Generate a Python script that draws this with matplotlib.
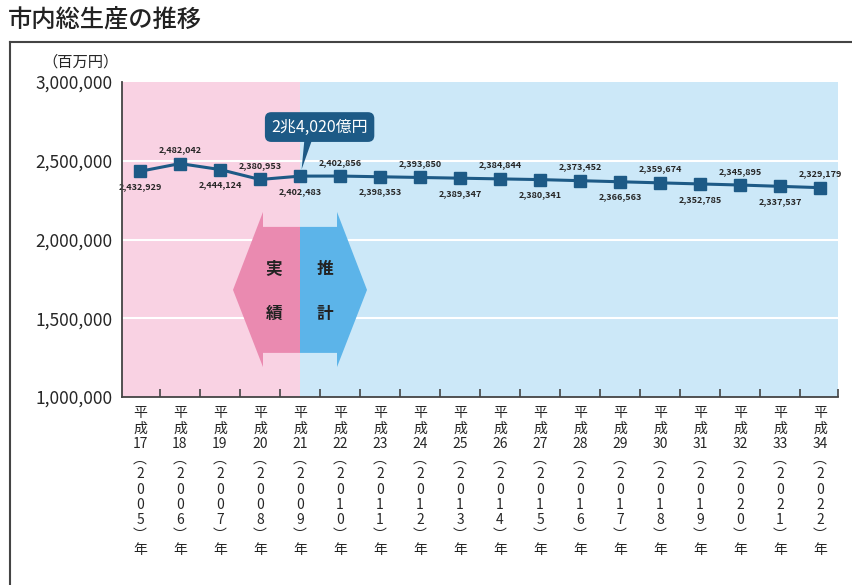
import numpy as np
import matplotlib.pyplot as plt
from matplotlib.patches import Polygon
from matplotlib.lines import Line2D

plt.rcParams['font.family'] = ['Noto Sans CJK JP', 'DejaVu Sans']

# data
heisei = list(range(17, 35))
years = list(range(2005, 2023))
values = [2432929, 2482042, 2444124, 2380953, 2402483, 2402856, 2398353,
          2393850, 2389347, 2384844, 2380341, 2373452, 2366563, 2359674,
          2352785, 2345895, 2337537, 2329179]
callout = '2兆4,020億円'
yticks = [1000000, 1500000, 2000000, 2500000, 3000000]

LINE = '#1d5a86'
PINK_BG = '#f9d2e3'
BLUE_BG = '#cce8f8'
PINK_ARW = '#ea8ab0'
BLUE_ARW = '#5cb4e9'
TXT = '#262626'


def vchars(h, y):
    # vertical writing, the era year stays horizontal
    return ['平', '成', str(h), '︵'] + list(str(y)) + ['︶', '年']


fig = plt.figure(figsize=(8.53, 5.85), dpi=100)
ax = fig.add_axes([122 / 853, 1 - 397 / 585, 716 / 853, 315 / 585])

x = np.arange(len(values))
ax.set_xlim(-0.45, 17.45)
ax.set_ylim(1000000, 3000000)

# actual / estimate background
ax.axvspan(-0.45, 4, color=PINK_BG, lw=0, zorder=0)
ax.axvspan(4, 17.45, color=BLUE_BG, lw=0, zorder=0)
for yv in yticks[1:-1]:
    ax.axhline(yv, color='white', lw=1.5, zorder=1)

# double arrow
pink = [(4, 2080000), (3.075, 2080000), (3.075, 2175000), (2.325, 1680000),
        (3.075, 1190000), (3.075, 1280000), (4, 1280000)]
blue = [(8 - px, py) for px, py in pink]
ax.add_patch(Polygon(pink, closed=True, fc=PINK_ARW, ec='none', zorder=2))
ax.add_patch(Polygon(blue, closed=True, fc=BLUE_ARW, ec='none', zorder=2))
for tx, ty, s in [(3.35, 1815000, '実'), (3.35, 1530000, '績'),
                  (4.62, 1815000, '推'), (4.62, 1530000, '計')]:
    ax.text(tx, ty, s, ha='center', va='center', fontsize=12,
            fontweight='bold', color='#222222', zorder=3)

ax.plot(x, values, color=LINE, lw=2.2, marker='s', ms=8, zorder=4)

for i, v in enumerate(values):
    off = -11 if i % 2 == 0 else 10
    ax.annotate(f'{v:,}', (i, v), xytext=(0, off), textcoords='offset points',
                ha='center', va='center', fontsize=6.5, fontweight='bold',
                color=TXT, zorder=5)

# callout
ax.add_patch(Polygon([(4.12, 2660000), (4.34, 2660000), (4.04, 2445000)],
                     closed=True, fc=LINE, ec='none', zorder=5))
ax.text(4.49, 2714000, callout, ha='center', va='center', fontsize=11.5,
        color='white', zorder=6,
        bbox=dict(boxstyle='round,pad=0.4', fc=LINE, ec='none'))

ax.set_yticks(yticks)
ax.set_yticklabels([f'{v:,}' for v in yticks], fontsize=12.5, color=TXT)
ax.tick_params(axis='y', length=0, pad=7)

# x labels written top to bottom under each point
ax.set_xticks(x)
ax.set_xticklabels([])
ax.tick_params(axis='x', which='major', length=0)
for i, (h, y) in enumerate(zip(heisei, years)):
    for k, ch in enumerate(vchars(h, y)):
        ax.annotate(ch, (i, 0), xycoords=('data', 'axes fraction'),
                    xytext=(0, -(16.5 + 15.2 * k) * 0.72),
                    textcoords='offset points', ha='center', va='center',
                    fontsize=10, color=TXT, annotation_clip=False)

ax.set_xticks(list(np.arange(0.5, 17, 1)) + [17.45], minor=True)
ax.tick_params(axis='x', which='minor', direction='in', length=6,
               width=1.2, color='#444444')

for s in ['top', 'right']:
    ax.spines[s].set_visible(False)
for s in ['left', 'bottom']:
    ax.spines[s].set_color('#444444')
    ax.spines[s].set_linewidth(1.3)
    ax.spines[s].set_zorder(6)

fig.text(119 / 853, 1 - 62 / 585, '（百万円）', ha='right', va='center',
         fontsize=11, color=TXT)
fig.text(8 / 853, 1 - 20 / 585, '市内総生産の推移', ha='left', va='center',
         fontsize=17.5, fontweight='medium', color='#222222')

# frame
fig.add_artist(Line2D([10 / 853, 1], [1 - 42 / 585] * 2, color='#444444', lw=1.5))
fig.add_artist(Line2D([10 / 853] * 2, [0, 1 - 42 / 585], color='#444444', lw=1.5))

fig.savefig('out.png', dpi=100)
